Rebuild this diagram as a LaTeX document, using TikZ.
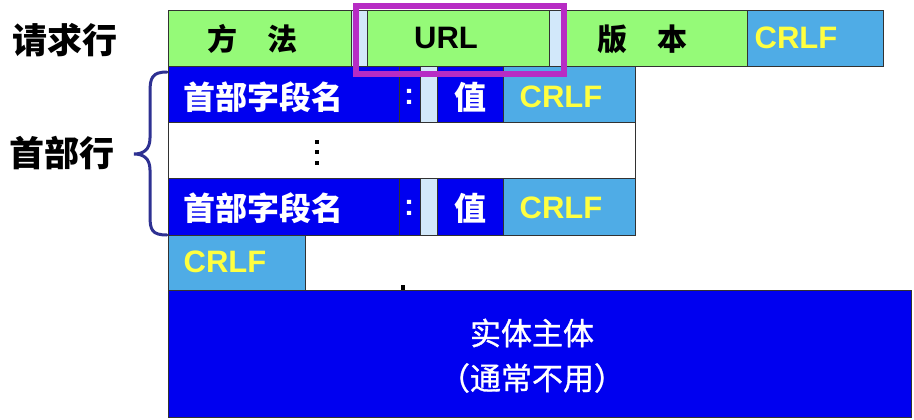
\documentclass[tikz,border=0pt]{standalone}
\usepackage{fontspec}
\setmainfont{Liberation Sans}
\newfontfamily\cjk{Noto Sans CJK SC}
\newfontfamily\cjkmid[FakeBold=1]{Noto Sans CJK SC}

\definecolor{reqgreen}{RGB}{149,250,120}
\definecolor{hdrblue}{RGB}{0,0,240}
\definecolor{crlfblue}{RGB}{79,172,230}
\definecolor{gapblue}{RGB}{210,232,250}
\definecolor{crlfyellow}{RGB}{255,255,64}
\definecolor{markpurple}{RGB}{183,44,196}
\definecolor{bracenavy}{RGB}{46,49,146}
\definecolor{edgegray}{RGB}{50,50,50}

\begin{document}
\begin{tikzpicture}[x=1pt,y=-1pt,
  cell/.style={draw=edgegray,line width=1pt},
  crlftxt/.style={inner sep=0pt,text=crlfyellow,font=\bfseries\fontsize{31}{31}\selectfont},
  urltxt/.style={inner sep=0pt,font=\bfseries\fontsize{31}{31}\selectfont},
  cntxt/.style={inner sep=0pt,font=\cjk\bfseries\fontsize{30}{30}\selectfont},
  hdrtxt/.style={inner sep=0pt,text=white,font=\cjk\bfseries\fontsize{32}{32}\selectfont},
  bodytxt/.style={inner sep=0pt,text=white,font=\cjkmid\fontsize{31}{31}\selectfont},
  sidetxt/.style={inner sep=0pt,font=\cjk\bfseries\fontsize{35}{35}\selectfont}]

  \useasboundingbox (0,0) rectangle (914,420);

  % request line
  \draw [cell,fill=gapblue] (168,11) rectangle (883,67);
  \draw [cell,fill=reqgreen] (168,11) rectangle (351,67);
  \draw [cell,fill=reqgreen] (367,11) rectangle (549,67);
  \draw [cell,fill=reqgreen] (565,11) rectangle (747,67);
  \draw [cell,fill=crlfblue] (747,11) rectangle (883,67);
  \node [cntxt] (method) at (252,39) {方\hspace{1em}法};
  \node [urltxt] (url) at (446,38) {URL};
  \node [cntxt] (version) at (642,39) {版\hspace{1em}本};
  \node [crlftxt] (crlfreq) at (796,38) {CRLF};

  % header lines
  \draw [cell,fill=gapblue] (168,67) rectangle (635,123);
  \draw [cell,fill=hdrblue] (168,67) rectangle (399,123);
  \draw [cell,fill=hdrblue] (399,67) rectangle (420,123);
  \draw [cell,fill=hdrblue] (437,67) rectangle (503,123);
  \draw [cell,fill=crlfblue] (503,67) rectangle (635,123);
  \node [hdrtxt] (fieldone) at (263,97) {首部字段名};
  \node [hdrtxt,font=\bfseries\fontsize{30}{30}\selectfont] (colonone) at (409,97) {:};
  \node [hdrtxt] (valueone) at (470,97) {值};
  \node [crlftxt] (crlfone) at (561,97) {CRLF};

  \draw [cell,fill=white] (168,123) rectangle (635,178);
  \foreach \dy in {142,152,163}
    \fill (315,\dy-2) rectangle (319,\dy+2);

  \draw [cell,fill=gapblue] (168,178) rectangle (635,235);
  \draw [cell,fill=hdrblue] (168,178) rectangle (399,235);
  \draw [cell,fill=hdrblue] (399,178) rectangle (420,235);
  \draw [cell,fill=hdrblue] (437,178) rectangle (503,235);
  \draw [cell,fill=crlfblue] (503,178) rectangle (635,235);
  \node [hdrtxt] (fieldtwo) at (263,208) {首部字段名};
  \node [hdrtxt,font=\bfseries\fontsize{30}{30}\selectfont] (colontwo) at (409,208) {:};
  \node [hdrtxt] (valuetwo) at (470,208) {值};
  \node [crlftxt] (crlftwo) at (561,208) {CRLF};

  % empty line
  \draw [cell,fill=crlfblue] (168,235) rectangle (305,290);
  \node [crlftxt] (crlfempty) at (225,262) {CRLF};
  \fill (401,285) rectangle (405,290);

  % body
  \draw [cell,fill=hdrblue] (168,290) rectangle (911,417);
  \node [bodytxt] (bodyone) at (532,333) {实体主体};
  \node [bodytxt] (bodytwo) at (532,378) {（通常不用）};

  % marks
  \draw [markpurple,line width=6pt] (356,6) rectangle (564,74);
  \draw [bracenavy,line width=3pt,line cap=round]
    (167,72) .. controls (152,72) and (150,78) .. (150,92) -- (150,138)
    .. controls (150,150) and (143,154) .. (134,154)
    .. controls (143,154) and (150,158) .. (150,170) -- (150,216)
    .. controls (150,230) and (152,235) .. (167,235);

  \node [sidetxt] (reqline) at (65,40) {请求行};
  \node [sidetxt] (hdrline) at (62,153) {首部行};

\end{tikzpicture}
\end{document}
